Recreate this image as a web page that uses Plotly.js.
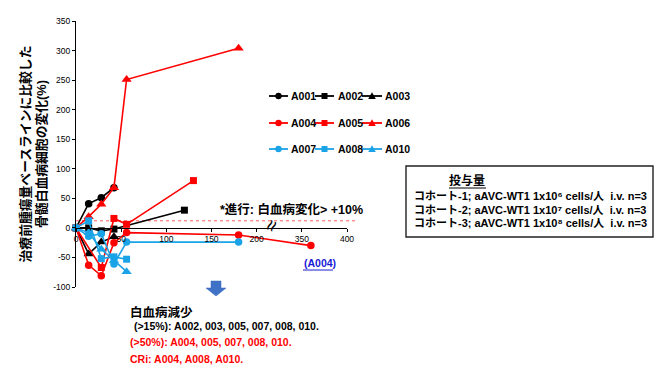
<!DOCTYPE html>
<html>
<head>
<meta charset="utf-8">
<script src="https://cdn.plot.ly/plotly-3.0.1.min.js"></script>
<style>html,body{margin:0;padding:0;background:#fff;}#chart{width:670px;height:377px;}</style>
</head>
<body>
<div id="chart"></div>
<script>
// ---- data (days since treatment, % change of marrow leukemic cells) ----
const seriesNames = ['A001','A002','A003','A004','A005','A006','A007','A008','A010'];
const A001_x = [0,14,28,42];            const A001_y = [0,41,51,68];
const A002_x = [0,14,28,42,120];        const A002_y = [0,0,-5,-2,30];
const A003_x = [0,14,28,42];            const A003_y = [0,-44,-24,-15];
const A004_x = [0,14,28,42,56,180,360]; const A004_y = [0,-63,-81,-25,-8,-12,-30];
const A005_x = [0,28,42,56,130];        const A005_y = [0,-67,16,6,80];
const A006_x = [0,14,28,42,56,180];     const A006_y = [0,19,40,68,251,304];
const A007_x = [0,14,28,42,56,180];     const A007_y = [0,-14,-10,-61,-24,-24];
const A008_x = [0,14,28,42,56];         const A008_y = [0,12,-52,-49,-53];
const A010_x = [0,14,28,42,56];         const A010_y = [0,-8,-36,-55,-74];
const xTickVals = [0,50,100,150,200,350,400];
const yTickVals = [-100,-50,0,50,100,150,200,250,300,350];
const threshold = 12;

// ---- styles ----
const BLACK = '#000000', RED = '#ff0000', CYAN = '#1aa3e6';
const colors = [BLACK,BLACK,BLACK,RED,RED,RED,CYAN,CYAN,CYAN];
const symbols = ['circle','square','triangle-up','circle','square','triangle-up','circle','square','triangle-up'];
const xs = [A001_x,A002_x,A003_x,A004_x,A005_x,A006_x,A007_x,A008_x,A010_x];
const ys = [A001_y,A002_y,A003_y,A004_y,A005_y,A006_y,A007_y,A008_y,A010_y];

// axis break: days beyond the break are shifted left by 100
const brk = d => d > 250 ? d - 100 : d;

const FONT = "Arial, 'Liberation Sans', 'Noto Sans CJK JP', sans-serif";
const ML = 76, MR = 323, MT = 21, MB = 90, W = 670, H = 377;
const PW = W - ML - MR, PH = H - MT - MB;
const X = px => (px - ML) / PW;
const Y = py => (H - MB - py) / PH;

const traces = seriesNames.map((n, i) => ({
  type: 'scatter', mode: 'lines+markers', name: n,
  x: xs[i].map(brk), y: ys[i],
  line: {color: colors[i], width: 1.6},
  marker: {color: colors[i], symbol: symbols[i], size: symbols[i] === 'triangle-up' ? 9 : (symbols[i] === 'square' ? 7 : 7.5)},
  cliponaxis: false, showlegend: false
}));

const shapes = [];
const annotations = [];
const ann = (px, py, text, size, color, anchor, extra) => annotations.push(Object.assign({
  xref:'paper', yref:'paper', x:X(px), y:Y(py), xanchor:anchor || 'left', yanchor:'middle', showarrow:false,
  text:text, font:{family:FONT, size:size, color:color || '#000'}}, extra || {}));

// threshold dotted line
shapes.push({type:'line', xref:'paper', yref:'y', x0:0, x1:X(356), y0:threshold, y1:threshold,
  line:{color:'#ff5a5a', width:1, dash:'dot'}, layer:'below'});

// custom legend
const legCols = [[269,288,289],[315,334,336],[362,382,383]];
const legRows = [96,123,149];
seriesNames.forEach((n, i) => {
  const r = Math.floor(i/3), c = i % 3;
  const [l0, l1, tx] = legCols[c];
  const yy = legRows[r];
  const cx = (l0 + l1) / 2;
  shapes.push({type:'line', xref:'paper', yref:'paper', x0:X(l0), x1:X(l1), y0:Y(yy), y1:Y(yy), line:{color:colors[i], width:1.8}});
  if (symbols[i] === 'circle') {
    shapes.push({type:'circle', xref:'paper', yref:'paper', x0:X(cx-3.2), x1:X(cx+3.2), y0:Y(yy-3.2), y1:Y(yy+3.2), fillcolor:colors[i], line:{color:colors[i], width:0}});
  } else if (symbols[i] === 'square') {
    shapes.push({type:'rect', xref:'paper', yref:'paper', x0:X(cx-3), x1:X(cx+3), y0:Y(yy-3), y1:Y(yy+3), fillcolor:colors[i], line:{color:colors[i], width:0}});
  } else {
    shapes.push({type:'path', xref:'paper', yref:'paper',
      path:`M${X(cx-3.8)},${Y(yy+3)} L${X(cx+3.8)},${Y(yy+3)} L${X(cx)},${Y(yy-3.8)} Z`, fillcolor:colors[i], line:{color:colors[i], width:0}});
  }
  ann(tx, yy, '<b>'+n+'</b>', 10.5, '#000');
});

// dose box
shapes.push({type:'rect', xref:'paper', yref:'paper', x0:X(406), x1:X(653), y0:Y(237), y1:Y(166), line:{color:'#222', width:1.4}, fillcolor:'rgba(0,0,0,0)'});
ann(467, 180, '<b>投与量</b>', 12, '#000', 'center');
shapes.push({type:'line', xref:'paper', yref:'paper', x0:X(449), x1:X(486), y0:Y(188), y1:Y(188), line:{color:'#000', width:1}});
const cohortLines = [
  'コホート-1; aAVC-WT1 1x10\u2076 cells/人\u00a0 i.v. n=3',
  'コホート-2; aAVC-WT1 1x10\u2077 cells/人\u00a0 i.v. n=3',
  'コホート-3; aAVC-WT1 1x10\u2078 cells/人\u00a0 i.v. n=3'];
[196,210,223].forEach((yy, k) => ann(412, yy, '<b>'+cohortLines[k]+'</b>', 11, '#000'));

// progression note
ann(218, 209, '<b>*進行: 白血病変化> +10%</b>', 12.5, '#000');

// (A004) label with underline
ann(302, 263, '<b>(A004)</b>', 10.5, '#1a1ad6');
shapes.push({type:'line', xref:'paper', yref:'paper', x0:X(303), x1:X(333), y0:Y(270), y1:Y(270), line:{color:'#1a1ad6', width:1}});

// axis break mark
annotations.push({xref:'x', yref:'paper', x:216, y:Y(226), xanchor:'center', yanchor:'middle', showarrow:false,
  text:'≈', textangle:-65, font:{family:FONT, size:20, color:'#000'}});

// blue arrow
shapes.push({type:'path', xref:'paper', yref:'paper',
  path:`M${X(206)},${Y(288)} L${X(211)},${Y(288)} L${X(211)},${Y(281)} L${X(221)},${Y(281)} L${X(221)},${Y(288)} L${X(226)},${Y(288)} L${X(216)},${Y(296)} Z`,
  fillcolor:'#3f72c6', line:{color:'#3566b8', width:0.5}});

// summary text
ann(128, 312, '<b>白血病減少</b>', 12.5, '#000');
ann(129, 326, '<b>\u00a0(>15%): A002, 003, 005, 007, 008, 010.</b>', 10.5, '#000');
ann(128, 342, '<b>(>50%): A004, 005, 007, 008, 010.</b>', 10.5, '#ff0000');
ann(128, 359, '<b>CRi: A004, A008, A010.</b>', 10.5, '#ff0000');

const layout = {
  width: W, height: H,
  margin: {l: ML, r: MR, t: MT, b: MB, pad: 0},
  paper_bgcolor: '#fff', plot_bgcolor: 'rgba(0,0,0,0)',
  showlegend: false,
  font: {family: FONT, color: '#000'},
  xaxis: {
    range: [0, 300], anchor: 'free', position: 100/450,
    tickmode: 'array', tickvals: xTickVals.map(brk), ticktext: xTickVals.map(String),
    showline: true, linecolor: '#000', linewidth: 1,
    ticks: 'outside', ticklen: 3, tickcolor: '#000', tickwidth: 1,
    showgrid: false, zeroline: false, automargin: false,
    tickfont: {family: FONT, size: 8.5, color: '#000'}
  },
  yaxis: {
    range: [-100, 350],
    tickmode: 'array', tickvals: yTickVals, ticktext: yTickVals.map(String),
    showline: true, linecolor: '#000', linewidth: 1,
    ticks: 'outside', ticklen: 3, tickcolor: '#000', tickwidth: 1,
    showgrid: false, zeroline: false, automargin: false,
    tickfont: {family: FONT, size: 8.5, color: '#000'},
    title: {text: '<b>治療前腫瘍量ベースラインに比較した<br>骨髄白血病細胞の変化(%)</b>', standoff: 3,
            font: {family: FONT, size: 12.8, color: '#000'}}
  },
  shapes: shapes,
  annotations: annotations
};

Plotly.newPlot('chart', traces, layout, {displayModeBar: false, staticPlot: true});
</script>
</body>
</html>
